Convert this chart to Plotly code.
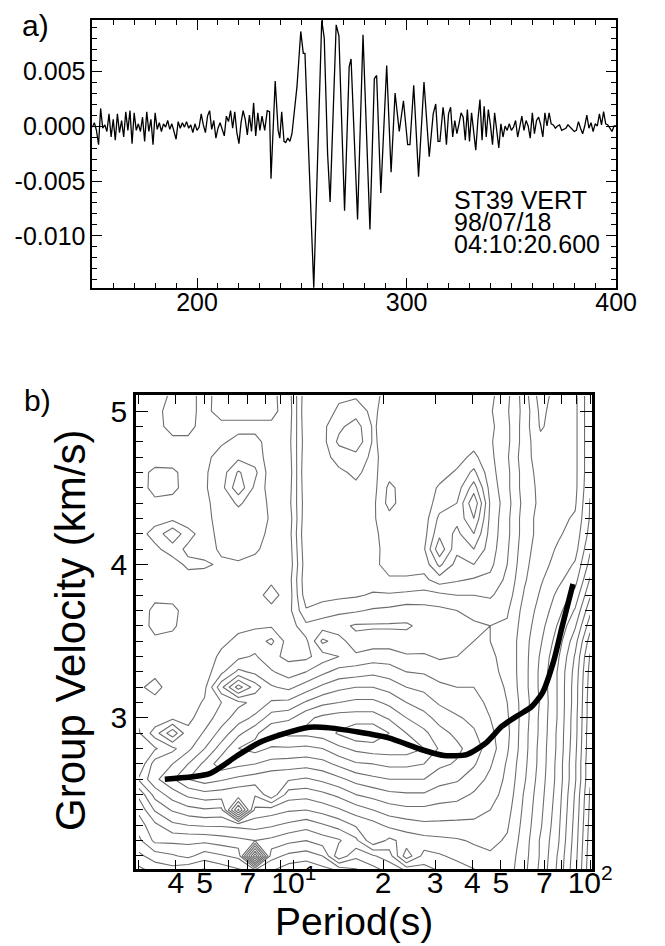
import numpy as np
import plotly.graph_objects as go

# ---------------- panel a : seismogram (amplitudes in units of 1e-3) ----------------
noise_early_t = list(range(150, 232))
noise_early_amp = [-0.1, 0.3, -0.4, -1.7, 1.6, -0.2, 0.1, -0.5, 1.1, -1.0,
                   0.6, -1.3, 1.1, -0.6, 0.5, -1.0, 1.3, -0.4, 1.4, -1.6,
                   1.2, -0.4, 0.2, -0.5, 0.8, -1.4, 1.3, -0.5, 0.6, -1.7,
                   1.2, -0.3, 0.3, -0.5, 0.2, -0.1, 0.5, -0.3, 0.2, -0.6,
                   -1.2, 0.4, -0.2, 0.3, -0.1, 0.4, -0.2, 0.1, -0.6, 0.2,
                   -0.4, -0.1, 1.1, 0.1, -0.6, 0.9, 1.4, -0.3, 0.5, -1.1,
                   -0.2, 0.3, -0.4, -0.9, 0.9, 0.4, 1.4, -0.2, 1.3, -0.6,
                   -1.6, 0.3, 1.4, 0.6, -0.8, 1.0, -0.5, 2.1, -0.9, 1.2,
                   -0.4, 0.9]
packet_t = [232.3, 233.5, 234.6, 235.3, 237.3, 238.7, 239.5, 240.4, 241.5, 242.3,
            243.3, 244.3, 245.3, 247.7, 249.5, 250.7, 251.5, 255.7, 259.5, 260.7,
            262.3, 263.5, 266.4, 267.7, 270.4, 272.6, 273.5, 276.6, 279.2, 282.5,
            284.6, 285.7, 287.7, 290.5, 292.6, 294.5, 296.5, 298.5, 300.5, 301.6,
            303.4, 305.7, 308.3, 310.8, 312.7, 313.9, 315.0, 315.9, 317.4]
packet_amp = [-0.4, 1.4, 1.3, -4.8, 4.1, -0.4, -1.1, 1.3, -1.4, -1.5,
              -1.1, -1.4, -0.7, 3.6, 8.6, 6.6, 6.6, -14.7, 9.6, 8.0,
              -2.5, -6.9, 9.2, 8.2, -7.7, 5.4, 6.1, -8.5, 8.3, -9.4,
              4.3, 4.6, -6.1, 5.5, -4.2, 3.0, -0.5, 2.3, -1.7, -1.7,
              3.7, -4.6, 4.0, -2.8, 1.1, 2.0, -1.4, -1.4, 1.7]
noise_late_t = list(range(318, 401))
noise_late_amp = [0.8, -1.7, 1.1, 1.7, -1.0, 0.5, -0.7, 0.2, 1.2, 0.8,
                  -1.3, 1.5, -1.4, 1.2, -0.5, -2.2, 0.5, 2.4, -1.3, 1.8,
                  -1.0, 1.5, 0.1, -1.7, 1.2, -0.2, -2.0, 0.2, -1.0, 0.0,
                  -0.4, 0.2, -0.4, -0.1, 0.5, -1.0, 0.0, 0.9, -0.4, 0.5,
                  0.0, -1.1, 1.2, -0.7, 0.5, 0.8, 0.1, -1.0, 1.2, 0.0,
                  1.2, 0.2, 0.1, -0.2, 0.0, 0.1, -0.4, -0.3, -0.2, 0.1,
                  -0.1, -0.3, -0.5, -0.4, 0.4, -0.2, -0.7, 0.0, 1.0, -0.2,
                  0.3, -0.5, 0.2, 0.0, 1.1, 0.1, 1.3, 0.2, 0.1, -0.2,
                  -0.5, 0.0, 0.0]
seis_yticks = [-0.010, -0.005, 0.0, 0.005]
seis_yticktext = ["-0.010", "-0.005", "0.000", "0.005"]
seis_xticks = [200, 300, 400]
station_lines = ["ST39 VERT", "98/07/18", "04:10:20.600"]

# ---------------- panel b : FTAN amplitude (contour levels) ----------------
periods_grid = [3.0, 3.4, 3.9, 4.4, 5.0, 5.7, 6.5, 7.4, 8.4, 9.6, 11, 12.5, 14.2, 16.2,
                18.5, 21, 24, 27.5, 31, 35.5, 40.5, 46, 52.5, 60, 68, 78, 89, 100]
velocity_grid = [2.0, 2.1, 2.2, 2.3, 2.4, 2.5, 2.6, 2.7, 2.8, 2.9, 3.0, 3.1, 3.2, 3.3,
                 3.4, 3.5, 3.6, 3.7, 3.8, 3.9, 4.0, 4.1, 4.2, 4.3, 4.4, 4.5, 4.6, 4.7,
                 4.8, 4.9, 5.0, 5.1]
# one list per period column, values from 2.0 km/s upward
amp_short = [
    [0.5, 1.4, 2.2, 2.8, 3.4, 4.2, 5.7, 4.9, 5.2, 5.5, 5.8, 6.0, 6.2, 6.0, 5.9, 5.8, 5.9, 6.0, 6.1, 6.0, 5.9, 6.0, 6.1, 6.0, 5.9, 6.0, 6.1, 6.0, 5.9, 6.0, 6.2, 6.1],
    [1.0, 2.0, 3.4, 3.8, 4.9, 5.9, 7.0, 6.8, 5.5, 6.8, 5.8, 6.0, 6.8, 6.1, 5.9, 6.2, 6.7, 6.6, 6.2, 5.9, 5.8, 6.2, 6.7, 6.1, 6.2, 6.7, 6.6, 6.0, 5.8, 6.1, 6.1, 5.9],
    [1.2, 2.3, 3.4, 4.6, 5.7, 6.8, 7.9, 7.2, 6.2, 8.6, 6.2, 5.9, 5.8, 5.7, 5.8, 6.0, 6.6, 6.7, 6.0, 5.8, 6.0, 6.8, 7.8, 6.2, 6.0, 6.7, 6.6, 5.9, 6.2, 6.7, 6.8, 6.6],
    [0.8, 2.6, 3.4, 4.8, 6.1, 7.4, 8.8, 8.0, 7.0, 6.6, 6.2, 6.0, 5.8, 5.7, 5.8, 5.9, 5.8, 5.9, 5.8, 6.0, 6.6, 6.2, 6.7, 5.9, 5.8, 5.9, 6.0, 6.0, 6.2, 6.7, 6.6, 6.7],
    [0.6, 2.0, 3.4, 4.9, 6.3, 7.7, 9.2, 9.0, 8.0, 7.3, 6.8, 6.5, 6.2, 6.0, 5.9, 5.8, 5.9, 5.8, 5.9, 5.8, 6.6, 5.9, 6.0, 6.1, 6.2, 6.3, 6.3, 6.2, 6.1, 6.0, 6.2, 6.1],
    [1.0, 2.3, 3.6, 4.9, 6.2, 7.6, 8.9, 10.1, 9.2, 8.3, 7.6, 7.2, 8.6, 7.0, 6.6, 6.2, 6.0, 5.9, 5.8, 5.9, 6.2, 6.6, 6.7, 6.8, 6.8, 6.9, 6.8, 6.7, 6.3, 6.2, 6.7, 6.8],
    [1.4, 2.6, 3.8, 5.0, 10.6, 7.4, 8.6, 9.8, 10.4, 9.4, 8.4, 7.8, 10.8, 8.2, 7.0, 6.6, 6.2, 6.0, 5.9, 6.0, 6.3, 6.7, 6.8, 6.9, 7.3, 8.6, 8.1, 7.0, 6.6, 6.2, 6.7, 6.8],
    [1.8, 8.6, 4.0, 5.1, 6.2, 7.3, 8.4, 9.6, 10.7, 10.2, 9.0, 8.2, 9.2, 7.8, 7.3, 6.8, 6.3, 6.2, 6.0, 5.9, 6.0, 6.6, 6.7, 6.8, 6.9, 7.0, 7.4, 6.8, 6.6, 6.2, 6.7, 6.8],
    [1.6, 2.7, 3.8, 4.9, 6.0, 8.6, 8.2, 9.3, 10.3, 11.1, 10.0, 8.9, 8.1, 7.3, 6.6, 7.4, 6.3, 6.1, 6.8, 6.2, 6.0, 5.9, 6.2, 6.3, 6.2, 6.0, 5.9, 6.0, 6.1, 6.2, 6.7, 6.6],
    [1.0, 2.2, 3.4, 4.6, 5.7, 6.8, 8.1, 9.2, 10.3, 11.4, 10.2, 9.0, 7.8, 6.8, 6.2, 6.0, 5.9, 6.1, 5.9, 6.0, 5.8, 5.9, 6.0, 5.9, 6.1, 6.0, 5.9, 6.0, 6.1, 6.0, 5.9, 6.0],
]
amp_mid = [
    [0.8, 2.0, 3.2, 4.3, 5.6, 6.7, 7.9, 9.1, 10.2, 11.4, 11.0, 9.7, 8.4, 7.2, 6.2, 6.2, 7.0, 7.9, 8.5, 8.6, 8.5, 8.6, 8.7, 8.6, 8.5, 8.6, 8.7, 8.6, 8.5, 8.6, 8.7, 8.6],
    [1.2, 2.4, 3.6, 4.7, 5.9, 7.0, 8.2, 9.3, 10.4, 11.6, 11.4, 10.2, 9.0, 7.8, 6.8, 8.2, 6.8, 7.6, 8.3, 8.6, 8.5, 8.6, 8.7, 8.6, 8.5, 8.6, 8.7, 8.6, 8.5, 8.6, 8.5, 8.6],
    [1.6, 4.6, 3.9, 5.1, 6.3, 7.4, 8.6, 9.8, 11.0, 12.1, 11.6, 10.4, 9.4, 8.3, 7.2, 7.6, 6.6, 7.4, 8.2, 8.6, 8.5, 8.6, 8.7, 8.6, 8.5, 8.6, 8.7, 9.0, 9.8, 9.4, 8.9, 8.7],
    [2.2, 3.4, 4.6, 5.7, 6.8, 8.0, 9.1, 10.3, 11.4, 12.6, 11.6, 10.6, 9.6, 8.4, 7.4, 6.6, 6.3, 7.3, 8.1, 8.5, 8.6, 8.5, 8.6, 8.7, 8.6, 8.7, 8.9, 9.3, 10.2, 10.0, 9.2, 8.7],
    [2.8, 3.9, 6.2, 6.1, 7.2, 8.3, 9.4, 10.4, 11.6, 12.6, 11.6, 10.6, 9.6, 8.6, 7.6, 6.8, 6.3, 7.1, 7.9, 8.4, 8.6, 8.5, 8.6, 8.7, 8.6, 8.5, 8.6, 8.6, 8.7, 8.7, 8.6, 8.5],
    [3.4, 4.4, 5.4, 6.6, 7.6, 8.6, 9.6, 10.6, 11.6, 12.0, 11.1, 10.2, 9.3, 8.4, 7.6, 6.8, 6.3, 7.0, 7.9, 8.7, 9.1, 9.2, 9.2, 9.3, 9.9, 9.8, 9.3, 9.2, 9.1, 9.2, 9.3, 9.2],
    [4.0, 6.9, 5.9, 6.8, 7.8, 8.7, 9.6, 10.6, 11.6, 11.2, 10.4, 9.6, 8.8, 8.0, 7.3, 6.7, 6.3, 6.8, 7.8, 8.7, 9.1, 9.2, 9.1, 9.2, 9.1, 9.2, 9.1, 9.2, 9.3, 9.2, 9.1, 9.2],
    [4.4, 5.3, 6.1, 7.0, 7.8, 8.7, 9.6, 10.4, 11.2, 10.6, 9.9, 9.2, 8.6, 7.9, 7.3, 6.8, 6.6, 6.9, 7.7, 8.6, 9.1, 9.5, 9.3, 9.2, 9.1, 9.2, 9.1, 9.2, 9.1, 9.2, 9.1, 9.2],
    [4.8, 5.5, 6.2, 7.0, 7.7, 8.4, 9.1, 9.8, 10.3, 9.9, 9.3, 8.7, 8.2, 7.6, 7.1, 6.8, 6.7, 7.0, 7.8, 9.2, 10.6, 11.8, 11.0, 10.6, 10.0, 9.7, 9.3, 9.1, 9.2, 9.1, 9.2, 9.1],
    [5.2, 5.8, 6.3, 7.0, 7.6, 8.3, 8.9, 9.5, 9.8, 9.4, 8.9, 8.4, 8.0, 7.6, 7.2, 6.9, 6.8, 7.2, 8.0, 8.9, 9.3, 9.8, 10.2, 10.6, 10.4, 10.0, 9.7, 9.3, 9.2, 9.1, 9.2, 9.1],
]
amp_long = [
    [5.5, 6.1, 6.5, 7.0, 7.5, 7.9, 8.4, 8.9, 9.2, 8.9, 8.6, 8.3, 8.0, 7.7, 7.4, 7.2, 7.1, 7.4, 8.0, 8.7, 9.6, 10.4, 11.2, 12.0, 12.7, 11.6, 10.6, 9.8, 9.3, 9.1, 9.0, 9.1],
    [6.0, 6.3, 6.6, 6.9, 7.2, 7.5, 7.8, 8.1, 8.4, 8.2, 8.0, 7.8, 7.6, 7.4, 7.3, 7.2, 7.2, 7.6, 8.1, 8.6, 9.0, 9.2, 9.3, 9.4, 9.5, 9.3, 9.1, 9.0, 8.9, 9.0, 8.9, 9.0],
    [6.0, 6.1, 6.3, 6.5, 6.7, 6.9, 7.0, 7.1, 7.3, 7.4, 7.3, 7.2, 7.1, 7.0, 7.0, 7.0, 7.1, 7.3, 7.6, 7.8, 8.0, 8.1, 8.2, 8.2, 8.3, 8.2, 8.2, 8.1, 8.2, 8.2, 8.1, 8.2],
    [5.0, 5.1, 5.2, 5.3, 5.4, 5.5, 5.7, 5.8, 5.9, 5.9, 6.0, 6.0, 5.9, 5.9, 5.9, 5.9, 6.0, 6.1, 6.3, 6.5, 6.6, 6.7, 6.8, 6.8, 6.9, 6.8, 6.8, 6.7, 6.8, 6.8, 6.9, 6.8],
    [3.8, 3.9, 3.9, 4.1, 4.2, 4.3, 4.4, 4.5, 4.5, 4.6, 4.6, 4.7, 4.6, 4.6, 4.7, 4.9, 5.1, 5.3, 5.5, 5.7, 5.9, 6.0, 6.1, 6.1, 6.2, 6.2, 6.1, 6.0, 5.8, 5.5, 5.4, 5.2],
    [2.2, 2.3, 2.5, 2.6, 2.7, 2.8, 2.9, 2.9, 3.0, 3.0, 3.1, 3.1, 3.1, 3.1, 3.3, 3.6, 3.9, 4.3, 4.6, 5.0, 5.3, 5.5, 5.7, 5.8, 5.9, 6.0, 6.0, 6.0, 6.0, 6.0, 6.0, 6.0],
    [0.2, 0.3, 0.4, 0.5, 0.6, 0.7, 0.9, 0.9, 1.0, 1.1, 1.1, 1.2, 1.2, 1.3, 1.5, 1.9, 2.5, 3.1, 3.7, 4.3, 4.7, 5.1, 5.3, 5.5, 5.7, 5.8, 5.8, 5.8, 5.8, 5.8, 5.8, 5.8],
    [-2.2, -2.1, -2.0, -1.9, -1.8, -1.7, -1.5, -1.5, -1.4, -1.4, -1.3, -1.3, -1.2, -1.1, -0.9, -0.4, 0.3, 1.0, 1.7, 2.3, 2.9, 3.3, 3.7, 3.9, 3.95, 4.1, 4.2, 4.2, 4.2, 4.2, 4.2, 4.2],
]
disp_period = [3.67, 5.2, 6.4, 7.6, 9.05, 11.3, 13.2, 16.5, 20.9, 26.9, 32.1, 38.3,
               44.5, 50.4, 57.2, 63.2, 69.0, 75.3, 80.2, 87.5]
disp_velocity = [2.60, 2.637, 2.75, 2.837, 2.891, 2.939, 2.935, 2.908, 2.87, 2.794,
                 2.755, 2.761, 2.837, 2.946, 3.017, 3.07, 3.163, 3.37, 3.586, 3.873]
period_ticks = [4, 5, 7, 10, 20, 30, 40, 50, 70, 100]
period_ticktext = ["4", "5", "7", "10<sup>1</sup>", "2", "3", "4", "5", "7", "10<sup>2</sup>"]
period_minor = [3, 6, 8, 9, 60, 80, 90]
vel_ticks = [3, 4, 5]

# ---------------- figure ----------------
W, H = 665, 946
FONT = "Liberation Sans, Arial, Helvetica, sans-serif"

fig = go.Figure()

seis_t = noise_early_t + packet_t + noise_late_t
seis_amp = np.array(noise_early_amp + packet_amp + noise_late_amp) * 1e-3
fig.add_trace(go.Scatter(x=seis_t, y=seis_amp, mode="lines",
                         line=dict(color="black", width=1.3),
                         xaxis="x", yaxis="y", showlegend=False, hoverinfo="skip"))

zgrid = np.array(amp_short + amp_mid + amp_long).T
fig.add_trace(go.Contour(x=periods_grid, y=velocity_grid, z=zgrid,
                         contours=dict(start=-4.8, end=13.6, size=0.8, coloring="lines"),
                         colorscale=[[0, "#6e6e6e"], [1, "#6e6e6e"]],
                         line=dict(width=1.1, smoothing=0),
                         showscale=False, xaxis="x2", yaxis="y2", hoverinfo="skip"))

fig.add_trace(go.Scatter(x=disp_period, y=disp_velocity, mode="lines",
                         line=dict(color="black", width=5.5, shape="spline", smoothing=0.6),
                         xaxis="x2", yaxis="y2", showlegend=False, hoverinfo="skip"))

font_a = dict(family=FONT, size=25, color="black")
font_b = dict(family=FONT, size=30, color="black")
common = dict(showgrid=False, zeroline=False, showline=True, linecolor="black",
              ticks="inside", tickcolor="black", mirror="allticks")

fig.update_layout(
    width=W, height=H, margin=dict(l=0, r=0, t=0, b=0),
    paper_bgcolor="white", plot_bgcolor="white", showlegend=False,
    xaxis=dict(domain=[87 / W, 628 / W], range=[150, 400], tickvals=seis_xticks,
               ticklen=10, tickwidth=1.2, linewidth=1.5, tickfont=font_a,
               ticklabelstandoff=-9,
               minor=dict(dtick=10, tick0=150, ticks="inside", ticklen=5, tickcolor="black"),
               anchor="y", **common),
    yaxis=dict(domain=[1 - 280 / H, 1 - 12 / H], range=[-0.01473, 0.00964],
               tickvals=seis_yticks, ticktext=seis_yticktext, tickfont=font_a,
               ticklen=10, tickwidth=1.2, linewidth=1.5,
               minor=dict(dtick=0.001, tick0=0, ticks="inside", ticklen=5, tickcolor="black"),
               anchor="x", **common),
    xaxis2=dict(domain=[132 / W, 603 / W], type="log", range=[0.467, 2.006],
                tickvals=period_ticks, ticktext=period_ticktext, tickfont=font_b,
                ticklen=9, tickwidth=1, linewidth=2.5, ticklabelstandoff=-15,
                minor=dict(tickvals=period_minor, ticks="inside", ticklen=9, tickcolor="black"),
                anchor="y2", **common),
    yaxis2=dict(domain=[1 - 861 / H, 1 - 387 / H], range=[2.015, 5.105],
                tickvals=vel_ticks, tickfont=font_b, ticklen=12, tickwidth=1, linewidth=2.5,
                minor=dict(dtick=0.1, tick0=2.0, ticks="inside", ticklen=7, tickcolor="black"),
                anchor="x2", **common),
)

ann = []
ann.append(dict(text="a)", x=12 / W, y=1 - 18 / H, xref="paper", yref="paper",
                xanchor="left", yanchor="middle", showarrow=False,
                font=dict(family=FONT, size=30, color="black")))
ann.append(dict(text="b)", x=14 / W, y=1 - 392 / H, xref="paper", yref="paper",
                xanchor="left", yanchor="middle", showarrow=False,
                font=dict(family=FONT, size=30, color="black")))
for line_text, ypix in zip(station_lines, [192, 214, 236]):
    ann.append(dict(text=line_text, x=458 / W, y=1 - ypix / H, xref="paper", yref="paper",
                    xanchor="left", yanchor="middle", showarrow=False,
                    font=dict(family=FONT, size=25, color="black")))
ann.append(dict(text="Group Velocity (km/s)", x=64 / W, y=1 - 622 / H, xref="paper",
                yref="paper", textangle=-90, xanchor="center", yanchor="middle",
                showarrow=False, font=dict(family=FONT, size=42, color="black")))
ann.append(dict(text="Period(s)", x=357 / W, y=1 - 913 / H, xref="paper", yref="paper",
                xanchor="center", yanchor="middle", showarrow=False,
                font=dict(family=FONT, size=39, color="black")))
fig.update_layout(annotations=ann)

fig.write_html("out.html")
